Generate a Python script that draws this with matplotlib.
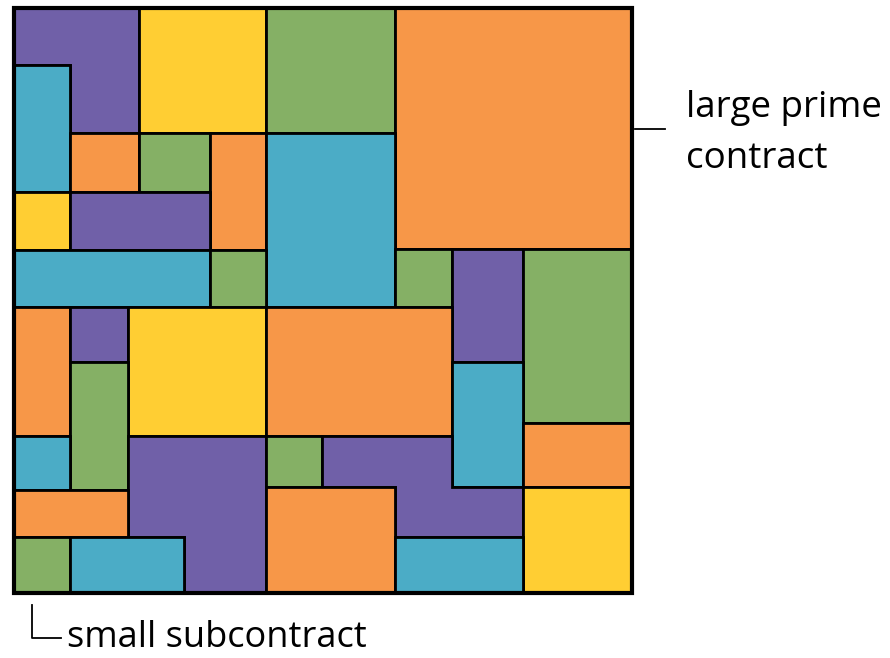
import matplotlib.pyplot as plt
from matplotlib.patches import Polygon

purple = "#7060A8"
yellow = "#FFCE33"
green = "#85B065"
orange = "#F79748"
cyan = "#4BACC6"

# each tile: (colour, outline corners) in picture units (x right, y down)
tiles = [
    (purple, [(14, 8), (139, 8), (139, 133), (70, 133), (70, 65), (14, 65)]),
    (yellow, [(139, 8), (266, 8), (266, 133), (139, 133)]),
    (green, [(266, 8), (395, 8), (395, 133), (266, 133)]),
    (orange, [(395, 8), (632, 8), (632, 249), (395, 249)]),
    (cyan, [(14, 65), (70, 65), (70, 192), (14, 192)]),
    (orange, [(70, 133), (139, 133), (139, 192), (70, 192)]),
    (green, [(139, 133), (210, 133), (210, 192), (139, 192)]),
    (orange, [(210, 133), (266, 133), (266, 250), (210, 250)]),
    (cyan, [(266, 133), (395, 133), (395, 307), (266, 307)]),
    (yellow, [(14, 192), (70, 192), (70, 250), (14, 250)]),
    (purple, [(70, 192), (210, 192), (210, 250), (70, 250)]),
    (cyan, [(14, 250), (210, 250), (210, 307), (14, 307)]),
    (green, [(210, 250), (266, 250), (266, 307), (210, 307)]),
    (green, [(395, 249), (452, 249), (452, 307), (395, 307)]),
    (purple, [(452, 249), (523, 249), (523, 362), (452, 362)]),
    (green, [(523, 249), (632, 249), (632, 423), (523, 423)]),
    (orange, [(14, 307), (70, 307), (70, 436), (14, 436)]),
    (purple, [(70, 307), (128, 307), (128, 362), (70, 362)]),
    (yellow, [(128, 307), (266, 307), (266, 436), (128, 436)]),
    (orange, [(266, 307), (452, 307), (452, 436), (266, 436)]),
    (green, [(70, 362), (128, 362), (128, 490), (70, 490)]),
    (cyan, [(452, 362), (523, 362), (523, 487), (452, 487)]),
    (orange, [(523, 423), (632, 423), (632, 487), (523, 487)]),
    (cyan, [(14, 436), (70, 436), (70, 490), (14, 490)]),
    (purple, [(128, 436), (266, 436), (266, 593), (184, 593), (184, 537), (128, 537)]),
    (green, [(266, 436), (322, 436), (322, 487), (266, 487)]),
    (purple, [(322, 436), (452, 436), (452, 487), (523, 487), (523, 537),
              (395, 537), (395, 487), (322, 487)]),
    (orange, [(14, 490), (128, 490), (128, 537), (14, 537)]),
    (orange, [(266, 487), (395, 487), (395, 593), (266, 593)]),
    (yellow, [(523, 487), (632, 487), (632, 593), (523, 593)]),
    (green, [(14, 537), (70, 537), (70, 593), (14, 593)]),
    (cyan, [(70, 537), (184, 537), (184, 593), (70, 593)]),
    (cyan, [(395, 537), (523, 537), (523, 593), (395, 593)]),
]

labels = ["large prime", "contract", "small subcontract"]

fig = plt.figure(figsize=(8.9, 6.58), dpi=100)
ax = fig.add_axes([0, 0, 1, 1])
ax.set_xlim(0, 890)
ax.set_ylim(658, 0)
ax.axis("off")

for colour, corners in tiles:
    ax.add_patch(Polygon(corners, closed=True, facecolor=colour,
                         edgecolor="black", linewidth=2, joinstyle="miter"))

# outer frame
ax.add_patch(Polygon([(14, 8), (632, 8), (632, 593), (14, 593)], closed=True,
                     fill=False, edgecolor="black", linewidth=3))

ax.plot([635, 665], [129, 129], color="black", linewidth=1.3)
ax.text(686, 117, labels[0], fontsize=26.5, family="Open Sans",
        va="baseline", ha="left")
ax.text(686, 168, labels[1], fontsize=26.5, family="Open Sans",
        va="baseline", ha="left")

ax.plot([32, 32, 61], [605, 638, 638], color="black", linewidth=1.3)
ax.text(67, 647, labels[2], fontsize=26, family="Open Sans",
        va="baseline", ha="left")

fig.savefig("out.png", dpi=100)
